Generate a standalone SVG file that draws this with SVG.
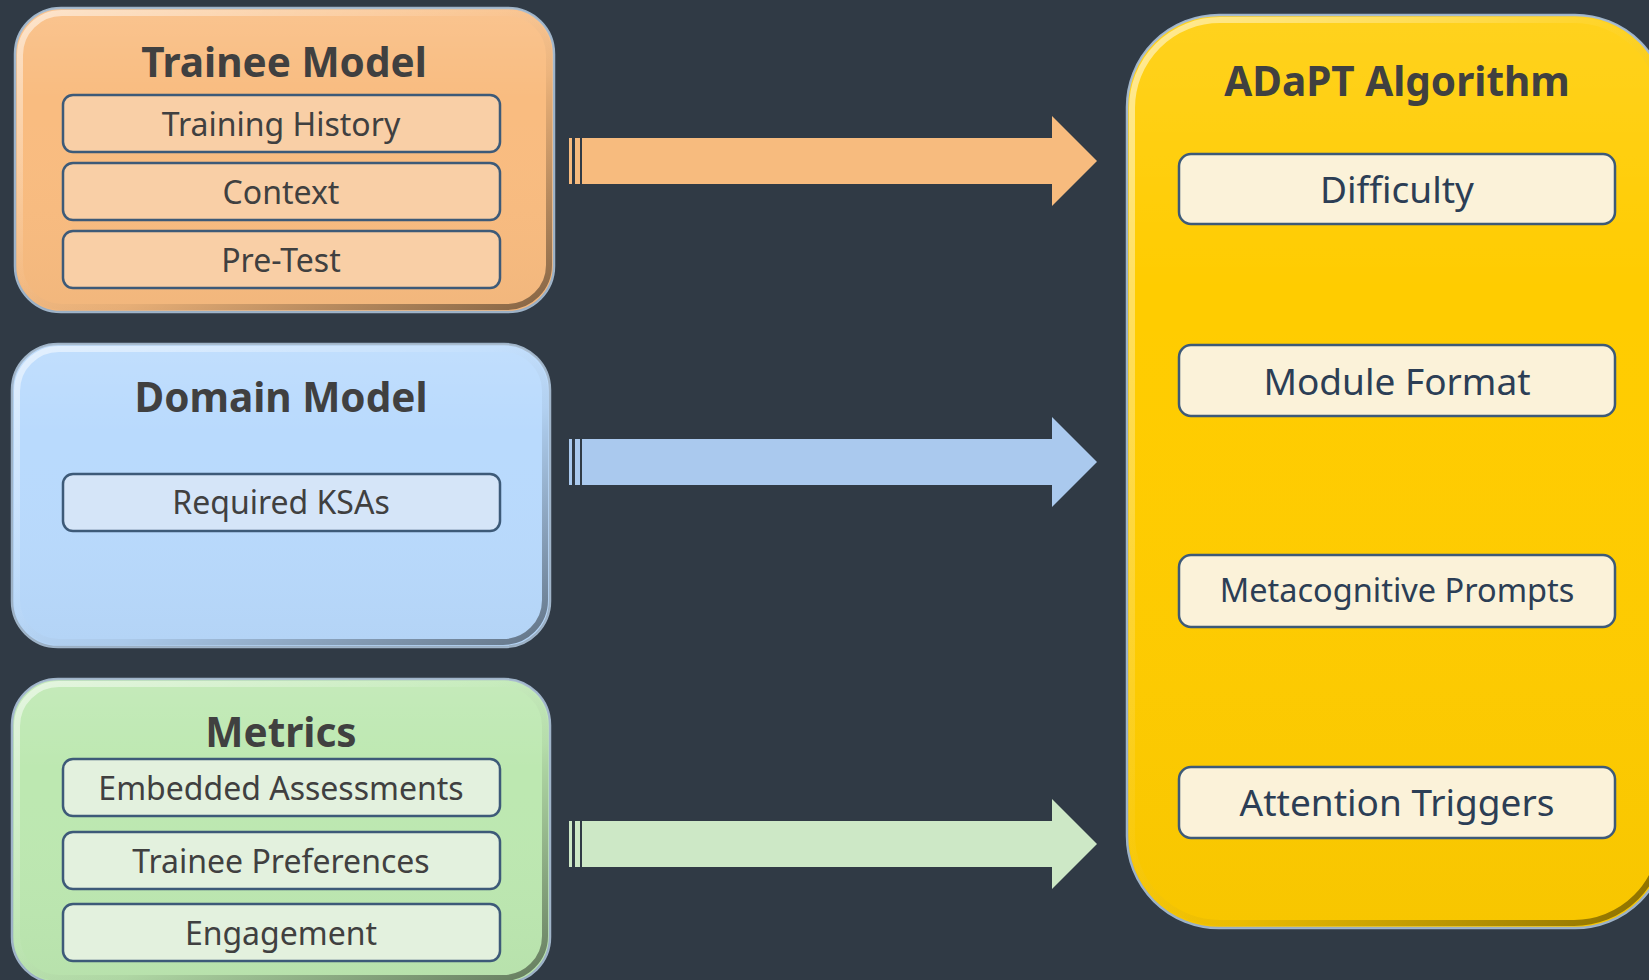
<svg xmlns="http://www.w3.org/2000/svg" width="1649" height="980" viewBox="0 0 1649 980">
<defs>
<linearGradient id="bevel" x1="0" y1="0" x2="1" y2="1">
<stop offset="0" stop-color="#ffffff" stop-opacity="0.55"/>
<stop offset="0.45" stop-color="#ffffff" stop-opacity="0.05"/>
<stop offset="0.6" stop-color="#000000" stop-opacity="0.05"/>
<stop offset="1" stop-color="#000000" stop-opacity="0.45"/>
</linearGradient>
<linearGradient id="sheen" x1="0" y1="0" x2="0" y2="1">
<stop offset="0" stop-color="#ffffff" stop-opacity="0.12"/>
<stop offset="0.3" stop-color="#ffffff" stop-opacity="0"/>
<stop offset="1" stop-color="#000000" stop-opacity="0.03"/>
</linearGradient>
<style>
.rim{stroke:#9fb4c9;stroke-width:2.5}
.bev{fill:none;stroke:url(#bevel);stroke-width:6}
.sh{fill:url(#sheen)}
.item{stroke:#3d5a78;stroke-width:2.5}
.title{font-family:"Noto Sans","Open Sans",sans-serif;font-weight:bold;font-size:40.5px;fill:#404040;text-anchor:middle}
.lt{font-family:"Noto Sans","Open Sans",sans-serif;font-size:32px;fill:#404040;text-anchor:middle}
.rt{font-family:"Noto Sans","Open Sans",sans-serif;font-size:37px;fill:#2c3e55;text-anchor:middle}
</style>
</defs>
<rect width="1649" height="980" fill="#303a45"/>

<g id="connectors">
<g id="arrow-trainee" fill="#f7bb7e">
<rect x="569" y="138" width="3" height="46"/>
<rect x="575" y="138" width="5" height="46"/>
<path d="M582,138 H1052 V116 L1097,161 L1052,206 V184 H582 Z"/>
</g>
<g id="arrow-domain" fill="#aac9ee">
<rect x="569" y="439" width="3" height="46"/>
<rect x="575" y="439" width="5" height="46"/>
<path d="M582,439 H1052 V417 L1097,462 L1052,507 V485 H582 Z"/>
</g>
<g id="arrow-metrics" fill="#cde8c6">
<rect x="569" y="821" width="3" height="46"/>
<rect x="575" y="821" width="5" height="46"/>
<path d="M582,821 H1052 V799 L1097,844 L1052,889 V867 H582 Z"/>
</g>
</g>

<g id="trainee-model">
<rect x="15" y="8" width="539" height="304" rx="46" fill="#f9bc80" class="rim"/>
<rect x="15" y="8" width="539" height="304" rx="46" class="sh"/>
<rect x="20" y="13" width="529" height="294" rx="42" class="bev"/>
<text x="284" y="77" class="title">Trainee Model</text>
<rect x="63" y="95" width="437" height="57" rx="10" fill="#f9cfa6" class="item"/>
<text x="281" y="136" class="lt">Training History</text>
<rect x="63" y="163" width="437" height="57" rx="10" fill="#f9cfa6" class="item"/>
<text x="281" y="204" class="lt">Context</text>
<rect x="63" y="231" width="437" height="57" rx="10" fill="#f9cfa6" class="item"/>
<text x="281" y="272" class="lt">Pre-Test</text>
</g>

<g id="domain-model">
<rect x="12" y="344" width="538" height="303" rx="46" fill="#b9dafd" class="rim"/>
<rect x="12" y="344" width="538" height="303" rx="46" class="sh"/>
<rect x="17" y="349" width="528" height="293" rx="42" class="bev"/>
<text x="281" y="412" class="title">Domain Model</text>
<rect x="63" y="474" width="437" height="57" rx="10" fill="#d5e5f8" class="item"/>
<text x="281" y="514" class="lt">Required KSAs</text>
</g>

<g id="metrics">
<rect x="12" y="679" width="538" height="304" rx="46" fill="#bde8b1" class="rim"/>
<rect x="12" y="679" width="538" height="304" rx="46" class="sh"/>
<rect x="17" y="684" width="528" height="294" rx="42" class="bev"/>
<text x="281" y="747" class="title">Metrics</text>
<rect x="63" y="759" width="437" height="57" rx="10" fill="#e3f1de" class="item"/>
<text x="281" y="800" class="lt">Embedded Assessments</text>
<rect x="63" y="832" width="437" height="57" rx="10" fill="#e3f1de" class="item"/>
<text x="281" y="873" class="lt">Trainee Preferences</text>
<rect x="63" y="904" width="437" height="57" rx="10" fill="#e3f1de" class="item"/>
<text x="281" y="945" class="lt">Engagement</text>
</g>

<g id="adapt-algorithm">
<rect x="1127" y="15" width="540" height="913" rx="92" fill="#ffcc00" class="rim"/>
<rect x="1127" y="15" width="540" height="913" rx="92" class="sh"/>
<rect x="1132" y="20" width="530" height="903" rx="88" class="bev"/>
<text x="1397" y="96" class="title">ADaPT Algorithm</text>
<rect x="1179" y="154" width="436" height="70" rx="12" fill="#fbf2d9" class="item"/>
<text x="1397" y="203" class="rt">Difficulty</text>
<rect x="1179" y="345" width="436" height="71" rx="12" fill="#fbf2d9" class="item"/>
<text x="1397" y="395" class="rt">Module Format</text>
<rect x="1179" y="555" width="436" height="72" rx="12" fill="#fbf2d9" class="item"/>
<text x="1397" y="602" class="rt" style="font-size:32.5px">Metacognitive Prompts</text>
<rect x="1179" y="767" width="436" height="71" rx="12" fill="#fbf2d9" class="item"/>
<text x="1397" y="816" class="rt">Attention Triggers</text>
</g>
</svg>
